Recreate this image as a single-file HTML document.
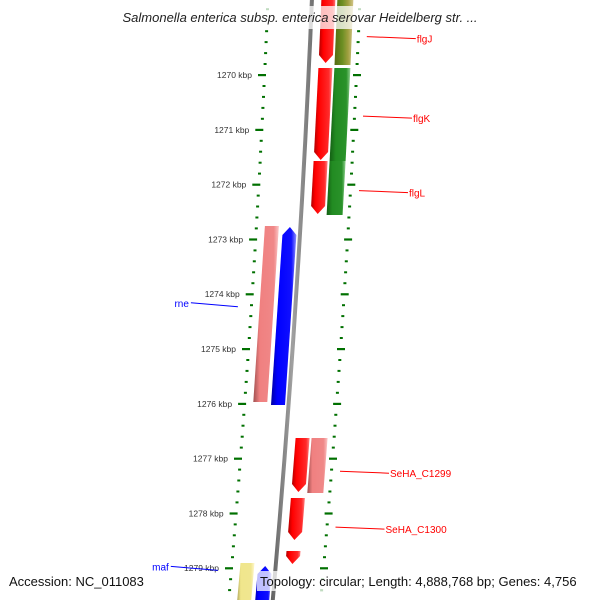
<!DOCTYPE html>
<html><head><meta charset="utf-8"><style>
html,body{margin:0;padding:0;background:#fff;}
svg{display:block;font-family:"Liberation Sans","DejaVu Sans",sans-serif;}
</style></head><body>
<svg id="map" width="600" height="600" viewBox="0 0 600 600" xmlns="http://www.w3.org/2000/svg">
<defs>
<linearGradient id="gRed" x1="0" x2="1"><stop offset="0" stop-color="#b00000"/><stop offset="0.25" stop-color="#ff0000"/><stop offset="0.8" stop-color="#ff2a2a"/><stop offset="1" stop-color="#ff8080"/></linearGradient>
<linearGradient id="gGreen" x1="0" x2="1"><stop offset="0" stop-color="#145f14"/><stop offset="0.3" stop-color="#228b22"/><stop offset="0.8" stop-color="#2a922a"/><stop offset="1" stop-color="#8fcf8f"/></linearGradient>
<linearGradient id="gOlive" x1="0" x2="1"><stop offset="0" stop-color="#556b10"/><stop offset="0.4" stop-color="#6b8e23"/><stop offset="0.7" stop-color="#a0a040"/><stop offset="1" stop-color="#d8c890"/></linearGradient>
<linearGradient id="gPink" x1="0" x2="1"><stop offset="0" stop-color="#a05050"/><stop offset="0.25" stop-color="#f08080"/><stop offset="0.8" stop-color="#f08888"/><stop offset="1" stop-color="#fbc8c8"/></linearGradient>
<linearGradient id="gBlue" x1="0" x2="1"><stop offset="0" stop-color="#0000a0"/><stop offset="0.25" stop-color="#0000ff"/><stop offset="0.8" stop-color="#1010ff"/><stop offset="1" stop-color="#9090ff"/></linearGradient>
<linearGradient id="gYellow" x1="0" x2="1"><stop offset="0" stop-color="#a09850"/><stop offset="0.25" stop-color="#f0e68c"/><stop offset="0.8" stop-color="#f0e690"/><stop offset="1" stop-color="#fff8d0"/></linearGradient>
<linearGradient id="gGray" x1="0" x2="1"><stop offset="0" stop-color="#606060"/><stop offset="0.5" stop-color="#a0a0a0"/><stop offset="1" stop-color="#707070"/></linearGradient>
</defs>
<g id="layer"></g>
</svg>
<script>
// Data
var tickKbp = [1270,1271,1272,1273,1274,1275,1276,1277,1278,1279];
var geneNames = ["flgJ-a","flgJ-b","flgK-a","flgK-b","flgL-a","flgL-b","rne-pink","rne","SeHA_C1299-a","SeHA_C1299-b","SeHA_C1300","small-cds","maf-yellow","maf"];
var geneStart = [1268400,1268400,1269872,1269872,1271569,1271569,1272755,1272774,1276624,1276624,1277719,1278686,1278905,1278960];
var geneEnd   = [1269781,1269818,1271551,1271569,1272536,1272555,1275967,1276022,1277609,1277628,1278485,1278923,1279800,1279800];
var geneStrand= [1,1,1,1,1,1,-1,-1,1,1,1,1,-1,-1];
var geneColumn= [2,3,2,3,2,3,0,1,2,3,2,2,0,1];
var geneFill  = ["gRed","gOlive","gRed","gGreen","gRed","gGreen","gPink","gBlue","gRed","gPink","gRed","gRed","gYellow","gBlue"];
var geneArrow = [1,0,1,0,1,0,0,1,1,0,1,1,0,1];
var labelText = ["flgJ","flgK","flgL","rne","SeHA_C1299","SeHA_C1300","maf"];
var labelBp   = [1269300,1270750,1272110,1274230,1277230,1278250,1279040];
var labelSide = [1,1,1,-1,1,1,-1];

// Axis functions
function yOf(bp){ return 75 + (bp-1270000)/1000*54.8; }
function L(y){ return 267.4 - 0.0419*y - 0.0000389*y*y; }
var colOff = [[9,23],[27,41],[54,68],[70,86]];
var NS="http://www.w3.org/2000/svg";
var layer=document.getElementById('layer');
function mk(tag,attrs,parent){var e=document.createElementNS(NS,tag);for(var k in attrs)e.setAttribute(k,attrs[k]);(parent||layer).appendChild(e);return e;}

// tick dots (minor every 200bp) left & right
var minorG=mk('g',{});


for(var bp=1268600;bp<=1280000;bp+=200){
  var y=yOf(bp); if(y<0||y>600) continue;
  if(bp%1000===0) continue;
  var l=L(y);
  var d1=mk('rect',{x:(l-1).toFixed(1),y:(y-1).toFixed(1),width:3,height:2,fill:'#007000'},minorG);
  var d2=mk('rect',{x:(l+91).toFixed(1),y:(y-1).toFixed(1),width:3,height:2,fill:'#007000'},minorG);
}
// backbone
var bb=[];for(var yy=0;yy<=600;yy+=20){bb.push(yy);}
var pts=bb.map(function(y){return (L(y)+42.5).toFixed(1)+','+y;}).concat(bb.slice().reverse().map(function(y){return (L(y)+46.5).toFixed(1)+','+y;}));
var back=mk('polygon',{points:pts.join(' '),fill:'url(#gGray)'});



// genes
for(var i=0;i<geneNames.length;i++){
  var y1=yOf(geneStart[i]), y2=yOf(geneEnd[i]);
  var o=colOff[geneColumn[i]], p;
  var a=geneArrow[i]?8:0;
  if(geneStrand[i]>0){
    var yb=y2-a;
    p=[[L(y1)+o[0],y1],[L(y1)+o[1],y1],[L(yb)+o[1],yb],[L(y2)+(o[0]+o[1])/2,y2],[L(yb)+o[0],yb]];
  } else {
    var yt=y1+a;
    p=[[L(y1)+(o[0]+o[1])/2,y1],[L(yt)+o[1],yt],[L(y2)+o[1],y2],[L(y2)+o[0],y2],[L(yt)+o[0],yt]];
  }
  var g=mk('polygon',{points:p.map(function(q){return q[0].toFixed(1)+','+q[1].toFixed(1);}).join(' '),fill:'url(#'+geneFill[i]+')'});
  
  
}

// major ticks + labels
for(var k=0;k<tickKbp.length;k++){
  var y=yOf(tickKbp[k]*1000), l=L(y);
  var t1=mk('rect',{x:(l-6).toFixed(1),y:(y-1).toFixed(1),width:8,height:2.2,fill:'#007000'});
  
  
  var t2=mk('rect',{x:(l+89).toFixed(1),y:(y-1).toFixed(1),width:8,height:2.2,fill:'#007000'});
  
  
  var tx=mk('text',{x:(l-12).toFixed(1),y:(y+3).toFixed(1),'text-anchor':'end','font-size':'8.5',fill:'#333'});
  tx.textContent=tickKbp[k]+' kbp';
  
  
}

// gene labels
for(var j=0;j<labelText.length;j++){
  var y=yOf(labelBp[j]), l=L(y), col=labelSide[j]>0?'#ff0000':'#0000ff';
  var x1,x2,tx1;
  if(labelSide[j]>0){x1=l+101;x2=l+150;tx1=x2+1;}
  else{x1=l-13;x2=l-60;tx1=x2-2;}
  var ln=mk('line',{x1:x1.toFixed(1),y1:y.toFixed(1),x2:x2.toFixed(1),y2:(y+(labelSide[j]>0?2:-4)).toFixed(1),stroke:col,'stroke-width':1});
  
  
  var t=mk('text',{x:tx1.toFixed(1),y:(y+(labelSide[j]>0?6:0)).toFixed(1),'text-anchor':labelSide[j]>0?'start':'end','font-size':'10',fill:col});
  t.textContent=labelText[j];
  
  
}

// title and footer
var tb=mk('rect',{x:85,y:6,width:430,height:23,fill:'#fff','fill-opacity':0.75});


var ti=mk('text',{x:300,y:22,'text-anchor':'middle','font-size':'13','font-style':'italic',fill:'#222'});
ti.textContent='Salmonella enterica subsp. enterica serovar Heidelberg str. ...';


var fb1=mk('rect',{x:4,y:571,width:148,height:20,fill:'#fff','fill-opacity':0.75});


var fb2=mk('rect',{x:257,y:571,width:339,height:20,fill:'#fff','fill-opacity':0.75});


var f1=mk('text',{x:9,y:586,'font-size':'13',fill:'#111'});
f1.textContent='Accession: NC_011083';


var f2=mk('text',{x:260,y:586,'font-size':'13',fill:'#111'});
f2.textContent='Topology: circular; Length: 4,888,768 bp; Genes: 4,756';


</script>
</body></html>
